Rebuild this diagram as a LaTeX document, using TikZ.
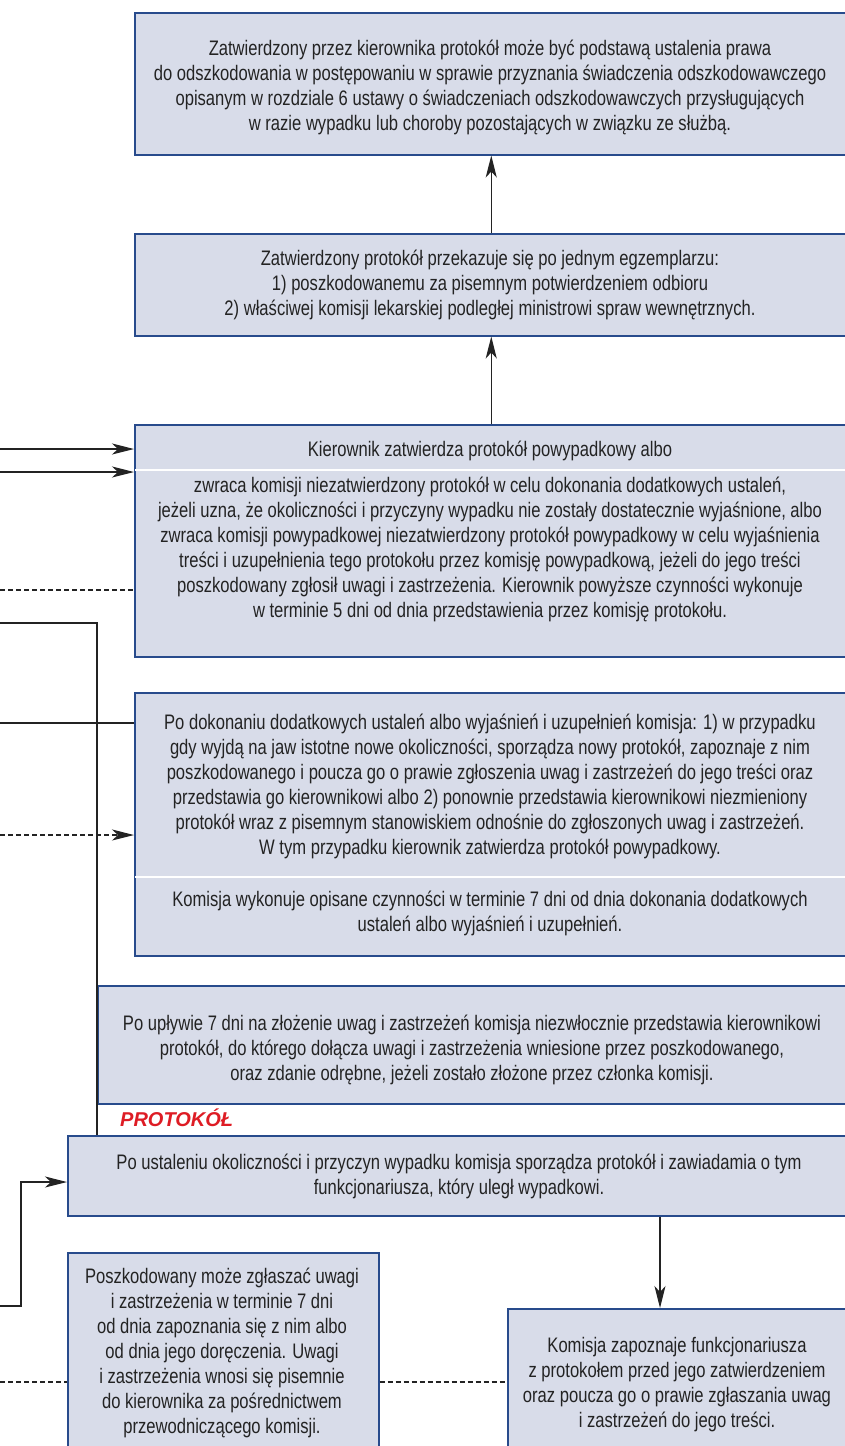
\documentclass[tikz,border=0pt]{standalone}
\usepackage{fontspec}
\setmainfont{Liberation Sans}[FakeStretch=0.79]
\newfontfamily\protfont{Liberation Sans}
\usetikzlibrary{arrows.meta}
\definecolor{boxfill}{RGB}{216,220,233}
\definecolor{boxline}{RGB}{40,75,140}
\definecolor{ink}{RGB}{35,35,35}
\definecolor{protred}{RGB}{222,28,36}
\begin{document}
\begin{tikzpicture}[x=1pt,y=-1pt,
  box/.style={draw=boxline, fill=boxfill, line width=1.5pt, rectangle, inner sep=0pt, anchor=north west},
  txt/.style={align=center, font=\fontsize{21}{25}\selectfont, text=ink, inner sep=0pt},
  divider/.style={draw=white, line width=2.5pt},
  conn/.style={draw=ink, line width=1.2pt},
  tip/.style={-{Stealth[length=22pt,width=11pt,inset=6pt]}},
  dsh/.style={dash pattern=on 5pt off 3pt}
]
\clip (0,0) rectangle (845,1446);
\fill[white] (0,0) rectangle (845,1446);
% boxes
\node[box, minimum width=713, minimum height=142] (b1) at (134,12) {};
\node[box, minimum width=713, minimum height=102] (b2) at (134,233) {};
\node[box, minimum width=713, minimum height=232] (b3) at (134,424) {};
\node[box, minimum width=713, minimum height=263] (b4) at (134,692) {};
\node[box, minimum width=750, minimum height=118] (b5) at (97,985) {};
\node[box, minimum width=780, minimum height=80] (b6) at (67,1135) {};
\node[box, minimum width=311, minimum height=200] (b7) at (67,1252) {};
\node[box, minimum width=340, minimum height=150] (b8) at (507,1308) {};
% dividers
\draw[divider] (135,470) -- (847,470);
\draw[divider] (135,877) -- (847,877);
% texts
\node[txt] (t1) at (490,87) {Zatwierdzony przez kierownika protokół może być podstawą ustalenia prawa\\ do odszkodowania w postępowaniu w sprawie przyznania świadczenia odszkodowawczego\\ opisanym w rozdziale 6 ustawy o świadczeniach odszkodowawczych przysługujących\\ w razie wypadku lub choroby pozostających w związku ze służbą.};
\node[txt] (t2) at (490,285) {Zatwierdzony protokół przekazuje się po jednym egzemplarzu:\\ 1) poszkodowanemu za pisemnym potwierdzeniem odbioru\\ 2) właściwej komisji lekarskiej podległej ministrowi spraw wewnętrznych.};
\node[txt] (t3h) at (490,451) {Kierownik zatwierdza protokół powypadkowy albo};
\node[txt] (t3b) at (490,549) {zwraca komisji niezatwierdzony protokół w celu dokonania dodatkowych ustaleń,\\ jeżeli uzna, że okoliczności i przyczyny wypadku nie zostały dostatecznie wyjaśnione, albo\\ zwraca komisji powypadkowej niezatwierdzony protokół powypadkowy w celu wyjaśnienia\\ treści i uzupełnienia tego protokołu przez komisję powypadkową, jeżeli do jego treści\\ poszkodowany zgłosił uwagi i zastrzeżenia. Kierownik powyższe czynności wykonuje\\ w terminie 5 dni od dnia przedstawienia przez komisję protokołu.};
\node[txt] (t4a) at (490,786) {Po dokonaniu dodatkowych ustaleń albo wyjaśnień i uzupełnień komisja: 1) w przypadku\\ gdy wyjdą na jaw istotne nowe okoliczności, sporządza nowy protokół, zapoznaje z nim\\ poszkodowanego i poucza go o prawie zgłoszenia uwag i zastrzeżeń do jego treści oraz\\ przedstawia go kierownikowi albo 2) ponownie przedstawia kierownikowi niezmieniony\\ protokół wraz z pisemnym stanowiskiem odnośnie do zgłoszonych uwag i zastrzeżeń.\\ W tym przypadku kierownik zatwierdza protokół powypadkowy.};
\node[txt] (t4b) at (490,913) {Komisja wykonuje opisane czynności w terminie 7 dni od dnia dokonania dodatkowych\\ ustaleń albo wyjaśnień i uzupełnień.};
\node[txt] (t5) at (472,1050) {Po upływie 7 dni na złożenie uwag i zastrzeżeń komisja niezwłocznie przedstawia kierownikowi\\ protokół, do którego dołącza uwagi i zastrzeżenia wniesione przez poszkodowanego,\\ oraz zdanie odrębne, jeżeli zostało złożone przez członka komisji.};
\node[txt, font=\protfont\fontsize{20}{25}\selectfont\bfseries\itshape, text=protred, anchor=west] (prot) at (120,1118) {PROTOKÓŁ};
\node[txt] (t6) at (459,1176) {Po ustaleniu okoliczności i przyczyn wypadku komisja sporządza protokół i zawiadamia o tym\\ funkcjonariusza, który uległ wypadkowi.};
\node[txt] (t7) at (222,1353) {Poszkodowany może zgłaszać uwagi\\ i zastrzeżenia w terminie 7 dni\\ od dnia zapoznania się z nim albo\\ od dnia jego doręczenia. Uwagi\\ i zastrzeżenia wnosi się pisemnie\\ do kierownika za pośrednictwem\\ przewodniczącego komisji.};
\node[txt] (t8) at (677,1385) {Komisja zapoznaje funkcjonariusza\\ z protokołem przed jego zatwierdzeniem\\ oraz poucza go o prawie zgłaszania uwag\\ i zastrzeżeń do jego treści.};
% left-edge coordinates
\coordinate (l1) at (0,449);
\coordinate (l2) at (0,472);
\coordinate (l3) at (0,590);
\coordinate (l4) at (0,623);
\coordinate (l5) at (0,723);
\coordinate (l6) at (0,835);
\coordinate (l7) at (0,1306);
\coordinate (k6) at (21,1182);
\coordinate (l8) at (0,1382);
\coordinate (c8) at (660,0);
% connectors
\draw[conn,tip] (b2.north) -- (b1.south);
\draw[conn,tip] (b3.north) -- (b2.south);
\draw[conn,tip] (l1) -- (l1 -| b3.west);
\draw[conn,tip] (l2) -- (l2 -| b3.west);
\draw[conn,dsh] (l3) -- (l3 -| b3.west);
\draw[conn] (l4) -| (b5.west |- b6.north);
\draw[conn] (l5) -- (l5 -| b4.west);
\draw[conn,dsh,tip] (l6) -- (l6 -| b4.west);
\draw[conn,tip] (l7) -| (k6) -- (k6 -| b6.west);
\draw[conn,dsh] (l8) -- (l8 -| b7.west);
\draw[conn,dsh] (l8 -| b7.east) -- (l8 -| b8.west);
\draw[conn,tip] (b6.south -| c8) -- (b8.north -| c8);
\end{tikzpicture}
\end{document}
